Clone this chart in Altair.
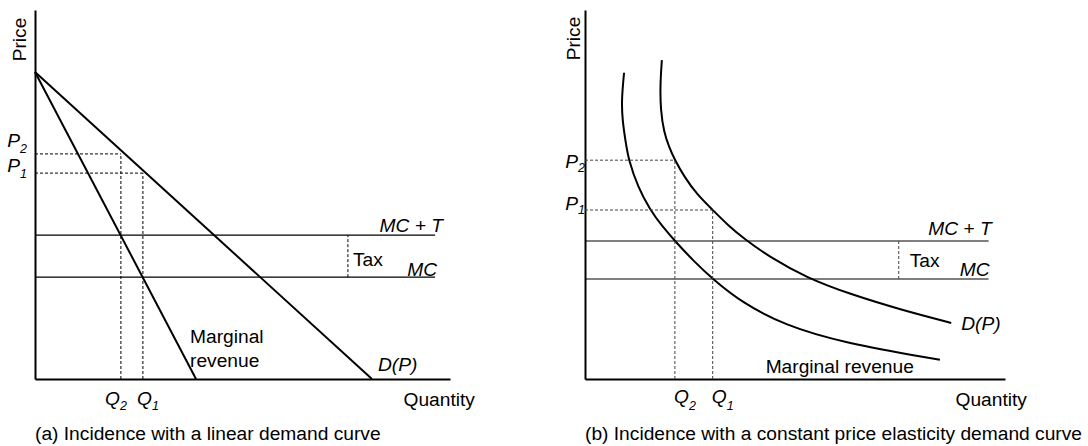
import altair as alt
import pandas as pd

FONT = "Liberation Sans"
FS = 19.2
SUB = 12.5

# ---------------- Panel (a): linear demand ----------------
A_DEMAND_Q = [0.0, 81.2]
A_DEMAND_P = [83.2, 0.0]
A_MR_Q = [0.0, 38.8]
A_MR_P = [83.2, 0.0]
A_MC = 27.6
A_MCT = 39.0
A_COST_END = 96.4
A_P1, A_P2 = 55.8, 61.0
A_Q1, A_Q2 = 26.0, 20.7
A_TAX_Q = 75.4

# ---------------- Panel (b): constant elasticity ----------------
B_D_Q = [18.3, 17.9, 18.0, 18.8, 20.0, 21.4, 23.7, 26.6, 30.4, 34.0, 38.0, 43.9, 52.8, 63.1, 75.4, 87.2]
B_D_P = [86.4, 79.7, 72.9, 66.9, 62.9, 59.3, 54.7, 50.1, 45.8, 41.7, 37.9, 33.1, 27.4, 23.0, 18.7, 15.2]
B_MR_Q = [9.3, 8.7, 8.9, 9.7, 10.4, 12.6, 15.5, 18.3, 21.4, 26.1, 30.4, 37.5, 47.5, 61.4, 84.5]
B_MR_P = [83.0, 75.6, 70.2, 64.0, 59.3, 52.0, 45.8, 41.5, 37.4, 31.7, 27.1, 20.6, 14.6, 9.8, 5.2]
B_MC = 27.1
B_MCT = 37.4
B_COST_END = 96.1
B_P1, B_P2 = 45.8, 59.3
B_Q1, B_Q2 = 30.4, 21.4
B_TAX_Q = 74.7

W_A, W_B, H = 415, 420, 369


def make_axes(price_x, price_y, qty_x, qty_y):
    common = dict(ticks=False, labels=False, grid=False, domain=True,
                  domainColor="black", domainWidth=2, titleFont=FONT,
                  titleFontSize=FS, titleFontWeight="normal", titleColor="black")
    xaxis = alt.Axis(title="Quantity", titleX=qty_x, titleY=qty_y,
                     titleAlign="left", titleBaseline="alphabetic", **common)
    yaxis = alt.Axis(title="Price", titleX=price_x, titleY=price_y, titleAngle=270,
                     titleAlign="center", titleBaseline="alphabetic", **common)
    return xaxis, yaxis


def panel(caption, width, ax, curves, costs, prices, quants, tax_q, labels, dash_color):
    xaxis, yaxis = ax
    xs = alt.Scale(domain=[0, 100], nice=False, zero=False)
    ys = alt.Scale(domain=[0, 100], nice=False, zero=False)

    def enc(**extra):
        return dict(x=alt.X("x:Q", scale=xs, axis=xaxis),
                    y=alt.Y("y:Q", scale=ys, axis=yaxis), **extra)

    layers = []
    for qs, ps, interp in curves:
        df = pd.DataFrame({"x": qs, "y": ps, "i": list(range(len(qs)))})
        layers.append(alt.Chart(df).mark_line(color="black", strokeWidth=2,
                                              interpolate=interp)
                      .encode(**enc(order="i:Q")))
    mc, mct, end = costs
    dfc = pd.DataFrame({"x": [0.0, 0.0], "x2": [end, end], "y": [mc, mct]})
    layers.append(alt.Chart(dfc).mark_rule(color="black", strokeWidth=1.2)
                  .encode(**enc(x2="x2:Q")))
    dfh = pd.DataFrame({"x": [0.0, 0.0], "x2": quants, "y": prices})
    layers.append(alt.Chart(dfh).mark_rule(color=dash_color, strokeWidth=1,
                                           strokeDash=[3, 2])
                  .encode(**enc(x2="x2:Q")))
    dfv = pd.DataFrame({"x": quants + [tax_q], "y": [0.0, 0.0, mc],
                        "y2": prices + [mct]})
    layers.append(alt.Chart(dfv).mark_rule(color=dash_color, strokeWidth=1,
                                           strokeDash=[3, 2])
                  .encode(**enc(y2="y2:Q")))
    for text, x, y, kw in labels:
        df = pd.DataFrame({"x": [x], "y": [y], "t": [text]})
        opts = dict(font=FONT, fontSize=FS, color="black", baseline="alphabetic")
        opts.update(kw)
        layers.append(alt.Chart(df).mark_text(**opts).encode(**enc(text="t:N")))

    return alt.layer(*layers).properties(
        width=width, height=H,
        title=alt.TitleParams(text=caption, orient="bottom", anchor="start",
                              frame="group", font=FONT, fontSize=FS,
                              fontWeight="normal", color="black",
                              baseline="alphabetic", offset=27),
    )


IT = dict(fontStyle="italic")

labels_a = [
    ("P", 0, A_P2, dict(align="right", dx=-15, dy=-7, **IT)),
    ("2", 0, A_P2, dict(align="left", dx=-15, dy=-1, fontSize=SUB, **IT)),
    ("P", 0, A_P1, dict(align="right", dx=-15, dy=-1, **IT)),
    ("1", 0, A_P1, dict(align="left", dx=-15, dy=5, fontSize=SUB, **IT)),
    ("Q", A_Q2, 0, dict(align="right", dx=-1, dy=26, **IT)),
    ("2", A_Q2, 0, dict(align="left", dx=-1, dy=31, fontSize=SUB, **IT)),
    ("Q", A_Q1, 0, dict(align="right", dx=9, dy=26, **IT)),
    ("1", A_Q1, 0, dict(align="left", dx=9, dy=31, fontSize=SUB, **IT)),
    ("MC + T", A_COST_END, A_MCT, dict(align="right", dx=8, dy=-3, **IT)),
    ("MC", A_COST_END, A_MC, dict(align="right", dx=2, dy=-1, **IT)),
    ("Tax", A_TAX_Q, A_MC, dict(align="left", dx=5, dy=-11)),
    ("Marginal\nrevenue", A_MR_Q[1], 0, dict(align="left", dx=-6, dy=-36,
                                              lineBreak="\n", lineHeight=24)),
    ("D(P)", A_DEMAND_Q[1], 0, dict(align="left", dx=6, dy=-8, **IT)),
]

labels_b = [
    ("P", 0, B_P2, dict(align="right", dx=-7, dy=8, **IT)),
    ("2", 0, B_P2, dict(align="left", dx=-7, dy=12, fontSize=SUB, **IT)),
    ("P", 0, B_P1, dict(align="right", dx=-7, dy=0, **IT)),
    ("1", 0, B_P1, dict(align="left", dx=-7, dy=4, fontSize=SUB, **IT)),
    ("Q", B_Q2, 0, dict(align="right", dx=14, dy=24, **IT)),
    ("2", B_Q2, 0, dict(align="left", dx=14, dy=31, fontSize=SUB, **IT)),
    ("Q", B_Q1, 0, dict(align="right", dx=14, dy=24, **IT)),
    ("1", B_Q1, 0, dict(align="left", dx=14, dy=31, fontSize=SUB, **IT)),
    ("MC + T", B_COST_END, B_MCT, dict(align="right", dx=3, dy=-6, **IT)),
    ("MC", B_COST_END, B_MC, dict(align="right", dx=1, dy=-3, **IT)),
    ("Tax", B_TAX_Q, B_MC, dict(align="left", dx=11, dy=-12)),
    ("Marginal revenue", B_MR_Q[-1], B_MR_P[-1], dict(align="right", dx=-26, dy=13)),
    ("D(P)", B_D_Q[-1], B_D_P[-1], dict(align="left", dx=10, dy=7, **IT)),
]

panel_a = panel(
    "(a) Incidence with a linear demand curve", W_A,
    make_axes(-10, 29, 368, 26),
    [(A_DEMAND_Q, A_DEMAND_P, "linear"), (A_MR_Q, A_MR_P, "linear")],
    (A_MC, A_MCT, A_COST_END),
    [A_P1, A_P2], [A_Q1, A_Q2], A_TAX_Q, labels_a, "black",
)

panel_b = panel(
    "(b) Incidence with a constant price elasticity demand curve", W_B,
    make_axes(-6, 28, 370, 26),
    [(B_D_Q, B_D_P, "basis"), (B_MR_Q, B_MR_P, "basis")],
    (B_MC, B_MCT, B_COST_END),
    [B_P1, B_P2], [B_Q1, B_Q2], B_TAX_Q, labels_b, "#444444",
)

chart = (
    alt.hconcat(panel_a, panel_b, spacing=135, bounds="flush")
    .properties(padding={"left": 7, "top": 10, "right": 2, "bottom": 0})
    .configure(font=FONT)
    .configure_view(strokeWidth=0)
)

chart.save("out.html", embed_options={"renderer": "svg", "actions": False})
